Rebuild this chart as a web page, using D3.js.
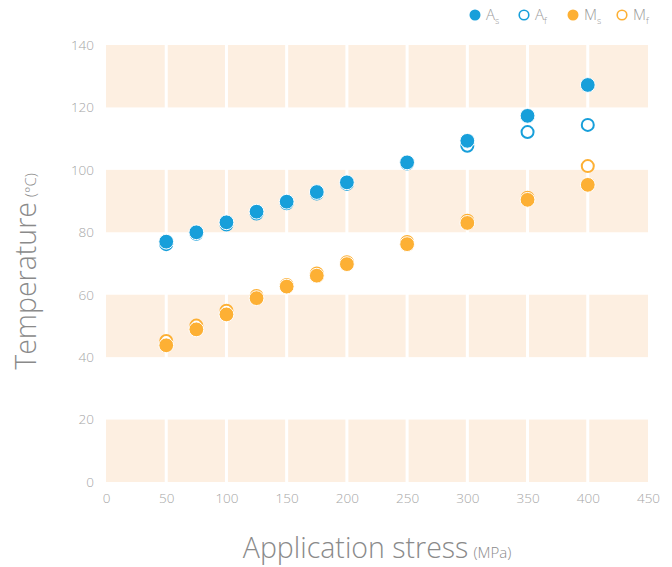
<!DOCTYPE html>
<html>
<head>
<meta charset="utf-8">
<script src="https://cdn.jsdelivr.net/npm/d3@7/dist/d3.min.js"></script>
<style>
  html, body { margin: 0; padding: 0; background: #fff; }
  svg { display: block; font-family: "Open Sans", "Lato", sans-serif; font-weight: 300; }
</style>
</head>
<body>
<svg id="chart" width="672" height="567"></svg>
<script>
// Application stress (MPa)
const stress = [50, 75, 100, 125, 150, 175, 200, 250, 300, 350, 400];
// Transformation temperatures (°C)
const As = [77.0, 80.0, 83.2, 86.6, 89.8, 92.9, 96.0, 102.4, 109.3, 117.3, 127.2];
const Af = [76.2, 79.5, 82.5, 86.0, 89.3, 92.4, 95.5, 102.0, 107.7, 112.1, 114.4];
const Ms = [43.8, 48.9, 53.7, 58.9, 62.6, 66.1, 69.8, 76.2, 83.0, 90.4, 95.2];
const Mf = [45.2, 50.1, 54.9, 59.6, 63.1, 66.8, 70.4, 76.9, 83.7, 91.1, 101.2];

const xTicks = [0, 50, 100, 150, 200, 250, 300, 350, 400, 450];
const yTicks = [0, 20, 40, 60, 80, 100, 120, 140];
const bandRows = [[0, 20], [40, 60], [80, 100], [120, 140]];

const series = [
  { name: "A", sub: "s", values: As, color: "#179fda", filled: true },
  { name: "A", sub: "f", values: Af, color: "#179fda", filled: false },
  { name: "M", sub: "s", values: Ms, color: "#fdb034", filled: true },
  { name: "M", sub: "f", values: Mf, color: "#fdb034", filled: false }
];

const svg = d3.select("#chart");
const x = d3.scaleLinear().domain([0, 450]).range([106, 648]);
const y = d3.scaleLinear().domain([0, 140]).range([482, 45]);

// shaded horizontal bands
svg.append("g").selectAll("rect").data(bandRows).join("rect")
  .attr("x", x(0)).attr("width", x(450) - x(0))
  .attr("y", d => y(d[1])).attr("height", d => y(d[0]) - y(d[1]))
  .attr("fill", "#fdefe1");

// white vertical grid lines splitting the bands
svg.append("g").selectAll("line").data(xTicks.slice(1, -1)).join("line")
  .attr("x1", d => x(d)).attr("x2", d => x(d))
  .attr("y1", y(140)).attr("y2", y(0))
  .attr("stroke", "#fff").attr("stroke-width", 3);

// axes (tick labels only)
const xAxis = svg.append("g").attr("transform", `translate(0,${y(0)})`)
  .call(d3.axisBottom(x).tickValues(xTicks).tickSize(0).tickPadding(11));
const yAxis = svg.append("g").attr("transform", `translate(${x(0)},0)`)
  .call(d3.axisLeft(y).tickValues(yTicks).tickSize(0).tickPadding(12));
[xAxis, yAxis].forEach(a => {
  a.select(".domain").remove();
  a.selectAll("text").attr("fill", "#a6a6a6").attr("font-size", 13.5)
    .attr("font-family", "'Open Sans', sans-serif").attr("font-weight", 300);
});

// points: rings first, filled markers on top
const order = [series[1], series[3], series[0], series[2]];
order.forEach(s => {
  svg.append("g").selectAll("circle").data(stress).join("circle")
    .attr("cx", d => x(d))
    .attr("cy", (d, i) => y(s.values[i]))
    .attr("r", s.filled ? 7.4 : 6)
    .attr("fill", s.filled ? s.color : "#fff")
    .attr("stroke", s.filled ? "#fff" : s.color)
    .attr("stroke-width", s.filled ? 1 : 2);
});

// axis titles
const xt = svg.append("text")
  .attr("x", (x(0) + x(450)) / 2).attr("y", 558)
  .attr("text-anchor", "middle").attr("fill", "#8a8a8a");
xt.append("tspan").attr("font-size", 28.5).text("Application stress");
xt.append("tspan").attr("font-size", 15).attr("dx", 5).text("(MPa)");

const yt = svg.append("text")
  .attr("transform", `translate(36,${(y(0) + y(140)) / 2 + 8}) rotate(-90)`)
  .attr("text-anchor", "middle").attr("fill", "#8a8a8a");
yt.append("tspan").attr("font-size", 28.5).text("Temperature");
yt.append("tspan").attr("font-size", 15).attr("dx", 5).text("(°C)");

// legend
const legendX = [475, 524, 573, 622];
const lg = svg.append("g").selectAll("g").data(series).join("g")
  .attr("transform", (d, i) => `translate(${legendX[i]},15)`);
lg.append("circle")
  .attr("r", d => d.filled ? 5.5 : 4.8)
  .attr("fill", d => d.filled ? d.color : "#fff")
  .attr("stroke", d => d.filled ? "none" : d.color)
  .attr("stroke-width", 1.6);
const lt = lg.append("text").attr("x", 11).attr("y", 5).attr("fill", "#9a9a9a");
lt.append("tspan").attr("font-size", 15).text(d => d.name);
lt.append("tspan").attr("font-size", 9).attr("dy", 4).text(d => d.sub);
</script>
</body>
</html>
